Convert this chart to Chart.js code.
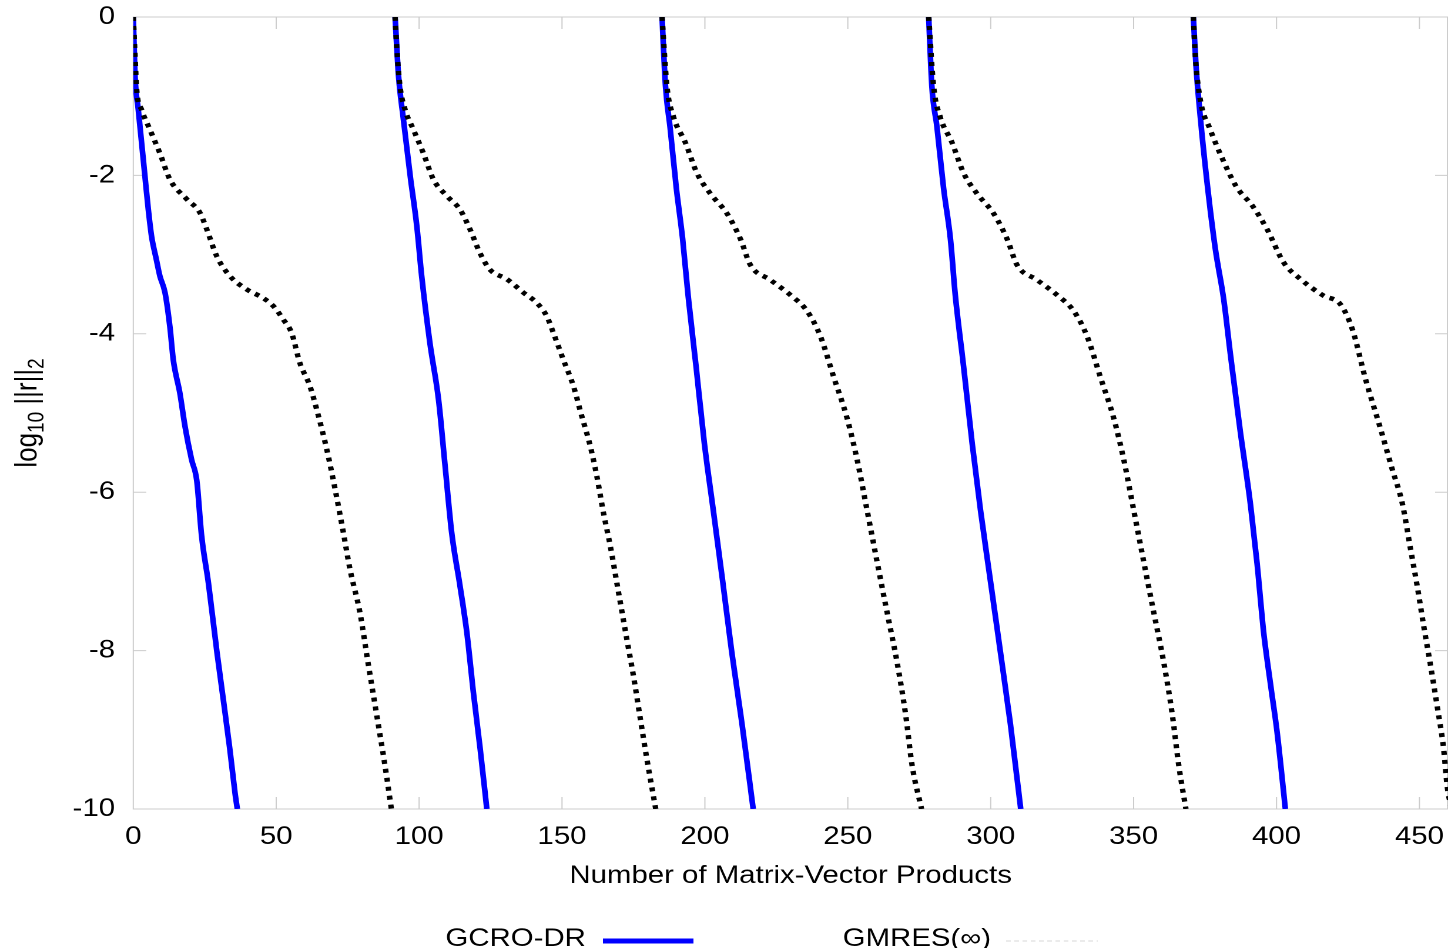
<!DOCTYPE html>
<html>
<head>
<meta charset="utf-8">
<script src="https://cdn.jsdelivr.net/npm/chart.js@4.4.1/dist/chart.umd.min.js"></script>
<style>
  html, body { margin: 0; padding: 0; background: #fff; }
</style>
</head>
<body>
<!-- the figure is drawn 1232 wide and shown stretched to 1448, like the original image -->
<canvas id="plot" width="1232" height="948" style="width:1448px;height:948px;display:block"></canvas>
<script>
const seriesNames = ['GCRO-DR', 'GMRES(\u221e)'];
const xTickValues = [0, 50, 100, 150, 200, 250, 300, 350, 400, 450];
const yTickValues = [0, -2, -4, -6, -8, -10];

// one sub-array per restart cycle
const gcroX = [
  [0, 0.6, 1.75, 3.5, 5.25, 6.4, 8, 9.3, 11.1, 12.8, 14, 16.3, 18.1, 20.4, 22.2, 23.9, 26.3, 29.2, 31.5, 33.8, 35.6, 36.4],
  [91.6, 92.8, 94.5, 96.9, 99.2, 100.9, 103.8, 106.8, 109.1, 111.4, 114.3, 116.7, 119, 121.4, 123.7],
  [185, 186.2, 187.8, 190, 192.2, 194.1, 196.9, 199.8, 202.9, 206.2, 209.4, 213, 216.9],
  [278.3, 279.4, 281.2, 283.5, 285.9, 287.6, 290.5, 293.5, 296.4, 299.9, 303.4, 306.9, 310.5],
  [370.9, 371.8, 373.3, 375.7, 378.6, 381.5, 384, 387.2, 390.9, 393.2, 395.5, 397.8, 400.2, 403.1]
];
const gcroY = [
  [0, -0.74, -1.17, -1.8, -2.43, -2.77, -3.05, -3.27, -3.48, -3.91, -4.33, -4.75, -5.17, -5.59, -5.85, -6.55, -7.15, -8.0, -8.62, -9.25, -9.8, -10],
  [0, -0.74, -1.29, -2.01, -2.64, -3.27, -4.12, -4.83, -5.67, -6.51, -7.18, -7.77, -8.53, -9.25, -10],
  [0, -0.87, -1.39, -2.16, -2.8, -3.51, -4.41, -5.38, -6.22, -7.12, -8.02, -8.93, -10],
  [0, -0.87, -1.39, -2.16, -2.8, -3.51, -4.41, -5.38, -6.22, -7.12, -8.02, -8.93, -10],
  [0, -0.6, -1.25, -2.09, -2.93, -3.56, -4.3, -5.2, -6.16, -6.9, -7.77, -8.4, -9.03, -10]
];
const gmresX = [
  [0, 0.5, 1.2, 2.9, 5.8, 9.3, 12.8, 18.7, 23.3, 25.7, 29.2, 33.8, 39.7, 45.5, 49, 52.5, 55.4, 58.3, 61.8, 64.5, 67.7, 70.6, 73.5, 75.8, 79.3, 82.3, 85.2, 88.1, 90.3],
  [91.6, 92.2, 93.3, 95.1, 98, 101.5, 105, 109.7, 114.3, 117.8, 121.3, 124.8, 130.7, 136.5, 141.2, 144.7, 147, 150.5, 154, 156.6, 159.9, 162.2, 164.5, 166.9, 169.8, 172.7, 175, 177.4, 179.7, 182.8],
  [185, 186.7, 189, 193.1, 197.2, 201.9, 207.7, 212.4, 215.9, 222.9, 229.9, 235.7, 240.4, 245.1, 249.7, 253.2, 256.7, 260.2, 263.7, 267.3, 270.2, 272.5, 275.8],
  [278.3, 280, 282.3, 286.4, 290.5, 295.2, 301, 305.7, 309.2, 316.2, 323.2, 329, 333.7, 338.4, 343, 346.5, 350, 353.5, 357, 360.6, 363.5, 365.8, 368.3],
  [370.9, 371.6, 373.3, 376.8, 380.7, 385.9, 391.7, 396.7, 402.5, 408.4, 416.5, 422.4, 426.6, 431.2, 436.4, 440.4, 444, 446.9, 449.2, 451.5, 453.9, 456.2, 458.5, 459.7, 461.2]
];
const gmresY = [
  [0, -0.4, -0.92, -1.17, -1.42, -1.72, -2.05, -2.3, -2.47, -2.68, -3.02, -3.27, -3.44, -3.55, -3.65, -3.82, -3.99, -4.37, -4.66, -5.0, -5.46, -5.96, -6.51, -6.97, -7.52, -8.19, -8.82, -9.46, -10],
  [0, -0.4, -0.87, -1.17, -1.42, -1.72, -2.05, -2.26, -2.43, -2.68, -2.98, -3.19, -3.31, -3.48, -3.61, -3.78, -3.99, -4.33, -4.66, -5.0, -5.42, -5.8, -6.26, -6.68, -7.27, -7.86, -8.32, -8.86, -9.37, -10],
  [0, -0.87, -1.26, -1.58, -1.97, -2.23, -2.48, -2.8, -3.13, -3.32, -3.51, -3.71, -4.03, -4.55, -5.06, -5.58, -6.22, -6.87, -7.51, -8.16, -8.8, -9.45, -10],
  [0, -0.87, -1.26, -1.58, -1.97, -2.23, -2.48, -2.8, -3.13, -3.32, -3.51, -3.71, -4.03, -4.55, -5.06, -5.58, -6.22, -6.87, -7.51, -8.16, -8.8, -9.45, -10],
  [0, -0.5, -1.04, -1.42, -1.76, -2.14, -2.39, -2.68, -3.1, -3.31, -3.52, -3.63, -3.95, -4.58, -5.2, -5.7, -6.14, -6.72, -7.18, -7.69, -8.19, -8.7, -9.25, -9.71, -10]
];

const FONT = "'Liberation Sans', Arial, sans-serif";
const BLUE = '#0000ff';

function points(xs, ys) {
  return xs.map((x, i) => ({ x: x, y: ys[i] }));
}

let datasets = [];
gcroX.forEach((xs, c) => {
  datasets.push({
    label: seriesNames[0],
    data: points(xs, gcroY[c]),
    borderColor: BLUE,
    borderWidth: 4.8,
    pointRadius: 0,
    cubicInterpolationMode: 'monotone',
    order: 1
  });
});
gmresX.forEach((xs, c) => {
  datasets.push({
    label: seriesNames[1],
    data: points(xs, gmresY[c]),
    borderColor: '#000000',
    borderWidth: 4.6,
    borderDash: [4, 5],
    borderCapStyle: 'butt',
    pointRadius: 0,
    cubicInterpolationMode: 'monotone',
    order: 0
  });
});

// grey frame with short inward tick marks
const framePlugin = {
  id: 'frame',
  beforeDatasetsDraw(chart) {
    const { ctx, chartArea: a, scales: { x, y } } = chart;
    ctx.save();
    ctx.strokeStyle = '#cccccc';
    ctx.lineWidth = 1;
    ctx.beginPath();
    ctx.moveTo(a.right, a.top); ctx.lineTo(a.left, a.top);
    ctx.lineTo(a.left, a.bottom); ctx.lineTo(a.right, a.bottom);
    ctx.moveTo(a.right - 0.5, a.top); ctx.lineTo(a.right - 0.5, a.bottom);
    xTickValues.forEach(v => {
      const px = x.getPixelForValue(v);
      ctx.moveTo(px, a.bottom); ctx.lineTo(px, a.bottom - 12);
      ctx.moveTo(px, a.top); ctx.lineTo(px, a.top + 12);
    });
    yTickValues.forEach(v => {
      const py = y.getPixelForValue(v);
      ctx.moveTo(a.left, py); ctx.lineTo(a.left + 11, py);
      ctx.moveTo(a.right, py); ctx.lineTo(a.right - 11, py);
    });
    ctx.stroke();
    ctx.restore();
  }
};

// y title with subscripts, and the legend under the x title
const textPlugin = {
  id: 'texts',
  afterDraw(chart) {
    const { ctx, chartArea: a } = chart;
    ctx.save();
    ctx.fillStyle = '#000';
    ctx.textBaseline = 'alphabetic';
    ctx.textAlign = 'left';

    const parts = [['log', 26, 0], ['10', 19, 6], [' ||r||', 26, 0], ['2', 19, 6]];
    let total = 0;
    parts.forEach(p => { ctx.font = p[1] + 'px ' + FONT; total += ctx.measureText(p[0]).width; });
    ctx.translate(31, (a.top + a.bottom) / 2);
    ctx.rotate(-Math.PI / 2);
    let tx = -total / 2;
    parts.forEach(p => {
      ctx.font = p[1] + 'px ' + FONT;
      ctx.fillText(p[0], tx, p[2]);
      tx += ctx.measureText(p[0]).width;
    });
    ctx.restore();

    ctx.save();
    ctx.font = '25px ' + FONT;
    ctx.fillStyle = '#000';
    ctx.textBaseline = 'alphabetic';
    ctx.fillText(seriesNames[0], 379, 946);
    ctx.strokeStyle = BLUE;
    ctx.lineWidth = 5;
    ctx.beginPath();
    ctx.moveTo(513, 941); ctx.lineTo(590, 941);
    ctx.stroke();
    ctx.fillText(seriesNames[1], 717, 946);
    ctx.strokeStyle = '#d6d6d6';
    ctx.lineWidth = 1;
    ctx.setLineDash([4, 3]);
    ctx.beginPath();
    ctx.moveTo(856, 941); ctx.lineTo(934, 941);
    ctx.stroke();
    ctx.restore();
  }
};

// keep the plot box exactly where the original has it
function noScalePadding(scale) {
  scale.paddingTop = 0;
  scale.paddingBottom = 0;
  scale.paddingLeft = 0;
  scale.paddingRight = 0;
}

new Chart(document.getElementById('plot'), {
  type: 'line',
  data: { datasets: datasets },
  plugins: [framePlugin, textPlugin],
  options: {
    responsive: false,
    devicePixelRatio: 2,
    animation: false,
    events: [],
    layout: { padding: { top: 17, bottom: 40, left: 0, right: 0 } },
    plugins: {
      legend: { display: false },
      tooltip: { enabled: false }
    },
    scales: {
      x: {
        type: 'linear',
        min: 0,
        max: 460,
        grid: { display: false, drawTicks: false },
        border: { display: false },
        ticks: { stepSize: 50, padding: 13, color: '#000', font: { family: FONT, size: 25 } },
        afterBuildTicks: scale => {
          scale.ticks = xTickValues.map(v => ({ value: v }));
        },
        afterFit: scale => { scale.height = 99; noScalePadding(scale); },
        title: {
          display: true,
          text: 'Number of Matrix-Vector Products',
          color: '#000',
          font: { family: FONT, size: 25 },
          padding: { top: 0, bottom: 17 }
        }
      },
      y: {
        type: 'linear',
        min: -10,
        max: 0,
        grid: { display: false, drawTicks: false },
        border: { display: false },
        ticks: { stepSize: 2, padding: 15.5, color: '#000', font: { family: FONT, size: 25 } },
        afterBuildTicks: scale => {
          scale.ticks = yTickValues.map(v => ({ value: v }));
        },
        afterFit: scale => { scale.width = 113.4; noScalePadding(scale); }
      }
    }
  }
});
</script>
</body>
</html>
